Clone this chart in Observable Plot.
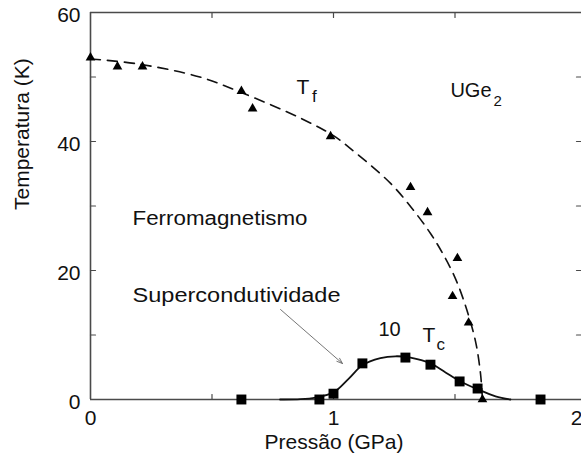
<!DOCTYPE html>
<html><head><meta charset="utf-8">
<script src="https://cdn.jsdelivr.net/npm/d3@7"></script>
<script src="https://cdn.jsdelivr.net/npm/@observablehq/plot@0.6"></script>
<style>html,body{margin:0;padding:0;background:#fff;overflow:hidden;} svg{display:block;}</style>
</head><body><div id="chart"></div>
<script>
// Tf (ferromagnetic transition) measured points: pressure (GPa), temperature (K)
const tfPressure = [0.000, 0.111, 0.214, 0.621, 0.667, 0.988, 1.317, 1.387, 1.510, 1.490, 1.556, 1.613];
const tfTemp     = [53.0, 51.6, 51.6, 47.8, 45.1, 40.8, 32.9, 29.0, 21.9, 16.0, 11.9, 0.0];
// Tf dashed guide line
const tfLineP = [0.000, 0.200, 0.450, 0.620, 0.860, 1.000, 1.070, 1.235, 1.330, 1.400, 1.450, 1.500, 1.540, 1.584, 1.605, 1.613];
const tfLineT = [52.8, 52.0, 50.0, 47.6, 43.7, 40.9, 38.9, 33.5, 29.3, 25.7, 22.6, 18.9, 14.9, 9.1, 4.0, 0.0];
// Tc (x10) measured points
const tcPressure = [0.621, 0.942, 1.000, 1.119, 1.296, 1.399, 1.519, 1.593, 1.852];
const tcTemp     = [0.0, 0.0, 0.9, 5.6, 6.5, 5.4, 2.8, 1.7, 0.0];
// Tc solid guide line
const tcLineP = [0.780, 0.864, 0.926, 1.000, 1.062, 1.119, 1.193, 1.255, 1.317, 1.399, 1.461, 1.523, 1.593, 1.667, 1.728];
const tcLineT = [0.0, 0.05, 0.3, 1.1, 3.2, 5.3, 6.4, 6.7, 6.5, 5.6, 4.2, 2.8, 1.6, 0.5, 0.0];
// axes
const xDomain = [0, 2.0206];
const yDomain = [0, 60];
const xTickLabels = [0, 1, 2];
const xTickMarks = [0.5, 1, 1.5];
const yTickLabels = [0, 20, 40, 60];
const yTickMarks = [10, 20, 30, 40, 50];
const xTitle = "Pressão (GPa)";
const yTitle = "Temperatura (K)";
// annotations (data coordinates)
const bigLabels = [
  {text: "Ferromagnetismo", x: 0.173, y: 28.1},
  {text: "Supercondutividade", x: 0.173, y: 16.1}
];
const symLabels = [
  {text: "T", x: 0.848, y: 48.4, size: 21},
  {text: "f", x: 0.912, y: 47.0, size: 17},
  {text: "UGe", x: 1.481, y: 47.9, size: 20},
  {text: "2", x: 1.658, y: 46.3, size: 15},
  {text: "10", x: 1.185, y: 10.85, size: 20},
  {text: "T", x: 1.366, y: 10.0, size: 21},
  {text: "c", x: 1.424, y: 8.5, size: 17}
];
const arrowFrom = [0.782, 13.95];
const arrowTo = [1.037, 5.58];

const tf = tfPressure.map((p, i) => ({p, t: tfTemp[i]}));
const tfLine = tfLineP.map((p, i) => ({p, t: tfLineT[i]}));
const tc = tcPressure.map((p, i) => ({p, t: tcTemp[i]}));
const tcLine = tcLineP.map((p, i) => ({p, t: tcLineT[i]}));
const arrows = [{x1: arrowFrom[0], y1: arrowFrom[1], x2: arrowTo[0], y2: arrowTo[1]}];

const tickShape = {draw(context, l) { context.moveTo(0, 0); context.lineTo(0, -l); }};
const frameColor = "#4a4a4a";

const chart = Plot.plot({
  width: 581, height: 463,
  marginLeft: 90, marginRight: 0, marginTop: 12, marginBottom: 64,
  x: {domain: xDomain, axis: null},
  y: {domain: yDomain, axis: null},
  style: {fontFamily: "'Liberation Sans', Arial, sans-serif", color: "#111", background: "#fff"},
  marks: [
    Plot.ruleX([xDomain[0]], {stroke: frameColor, strokeWidth: 1.6}),
    Plot.ruleY([yDomain[0], yDomain[1]], {stroke: frameColor, strokeWidth: 1.6}),
    Plot.vector(xTickMarks, {x: d => d, y: yDomain[0], length: 5, rotate: 0, anchor: "start", shape: tickShape, stroke: frameColor, strokeWidth: 1.2}),
    Plot.vector(xTickMarks, {x: d => d, y: yDomain[1], length: 5, rotate: 180, anchor: "start", shape: tickShape, stroke: frameColor, strokeWidth: 1.2}),
    Plot.vector(yTickMarks, {x: xDomain[0], y: d => d, length: 5, rotate: 90, anchor: "start", shape: tickShape, stroke: frameColor, strokeWidth: 1.2}),
    Plot.vector(yTickMarks, {x: xDomain[1], y: d => d, length: 5, rotate: -90, anchor: "start", shape: tickShape, stroke: frameColor, strokeWidth: 1.2}),
    Plot.axisY({ticks: yTickLabels, tickSize: 0, tickPadding: 10, fontSize: 21, dy: 3, label: null, tickFormat: d => String(d)}),
    Plot.axisX({ticks: xTickLabels, tickSize: 0, tickPadding: 11, fontSize: 21, label: null, tickFormat: d => String(d)}),
    Plot.text([xTitle], {frameAnchor: "bottom", dy: 49, dx: -2, fontSize: 21, fill: "#111"}),
    Plot.text([yTitle], {frameAnchor: "left", rotate: -90, dx: -68, dy: 4, fontSize: 21, fill: "#111"}),
    Plot.line(tfLine, {x: "p", y: "t", stroke: "#111", strokeWidth: 1.6, strokeDasharray: "10,7", curve: "catmull-rom"}),
    Plot.line(tcLine, {x: "p", y: "t", stroke: "#111", strokeWidth: 1.8, curve: "catmull-rom"}),
    Plot.dot(tf, {x: "p", y: "t", symbol: "triangle", r: 3.6, fill: "#000", stroke: "none"}),
    Plot.dot(tc, {x: "p", y: "t", symbol: "square", r: 5.6, fill: "#000", stroke: "none"}),
    Plot.arrow(arrows, {x1: "x1", y1: "y1", x2: "x2", y2: "y2", stroke: "#666", strokeWidth: 0.9, headLength: 10, headAngle: 40, bend: 0}),
    Plot.text(bigLabels, {x: "x", y: "y", text: "text", textAnchor: "start", fontSize: 20, fill: "#111"}),
    Plot.text(symLabels, {x: "x", y: "y", text: "text", textAnchor: "start", fontSize: d => d.size, fill: "#111"})
  ]
});

const fitWidths = {"Ferromagnetismo": 175, "Supercondutividade": 208};
d3.select(chart).selectAll("text").each(function() {
  const w = fitWidths[this.textContent];
  if (w) { this.setAttribute("textLength", w); this.setAttribute("lengthAdjust", "spacingAndGlyphs"); }
});
document.getElementById("chart").appendChild(chart);
</script>
</body></html>
